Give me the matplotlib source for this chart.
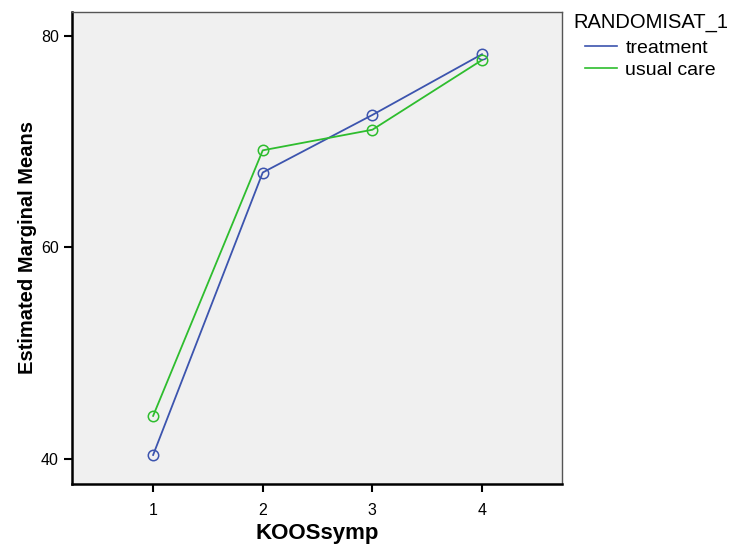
import matplotlib
matplotlib.use("Agg")
import matplotlib.pyplot as plt

plt.rcParams['font.family'] = ['Liberation Sans', 'DejaVu Sans']

koos_levels = [1, 2, 3, 4]
treatment = [40.35, 67.1, 72.55, 78.3]
usual_care = [44.05, 69.2, 71.15, 77.75]
y_ticks = [40, 60, 80]

W, H = 732, 549
fig = plt.figure(figsize=(W / 100, H / 100), dpi=100)
ax = fig.add_axes([72 / W, 65 / H, 490 / W, 472 / H])
ax.set_facecolor('#f0f0f0')

blue = '#3c54ae'
green = '#2ebd2e'
ax.plot(koos_levels, treatment, color=blue, lw=1.3, marker='o', ms=7.5,
        mfc='none', mec=blue, mew=1.1, label='treatment')
ax.plot(koos_levels, usual_care, color=green, lw=1.3, marker='o', ms=7.5,
        mfc='none', mec=green, mew=1.1, label='usual care')

ax.set_xlim(0.26, 4.73)
ax.set_ylim(37.6, 82.3)
ax.set_xticks(koos_levels)
ax.set_yticks(y_ticks)
ax.tick_params(labelsize=11.5, length=6, width=1.5, direction='out')
ax.tick_params(axis='x', pad=8)

for s in ['left', 'bottom']:
    ax.spines[s].set_linewidth(1.8)
    ax.spines[s].set_color('black')
for s in ['top', 'right']:
    ax.spines[s].set_linewidth(1.0)
    ax.spines[s].set_color('#555555')

ax.set_xlabel('KOOSsymp', fontsize=16, fontweight='bold', labelpad=3)
ax.set_ylabel('Estimated Marginal Means', fontsize=14.5, fontweight='bold', labelpad=3)

# legend drawn by hand: title flush left, entries indented
fig.text(573 / W, 1 - 23 / H, 'RANDOMISAT_1', fontsize=14.5, va='center', ha='left')
leg = ax.legend(loc='upper left', bbox_to_anchor=(585 / W, 1 - 39 / H),
                bbox_transform=fig.transFigure, frameon=False, fontsize=14,
                handlelength=1.65, handletextpad=0.42, labelspacing=0.25,
                borderpad=0, borderaxespad=0)
for line in leg.get_lines():
    line.set_marker('')
    line.set_linewidth(1.2)

fig.savefig('out.png', dpi=100)
